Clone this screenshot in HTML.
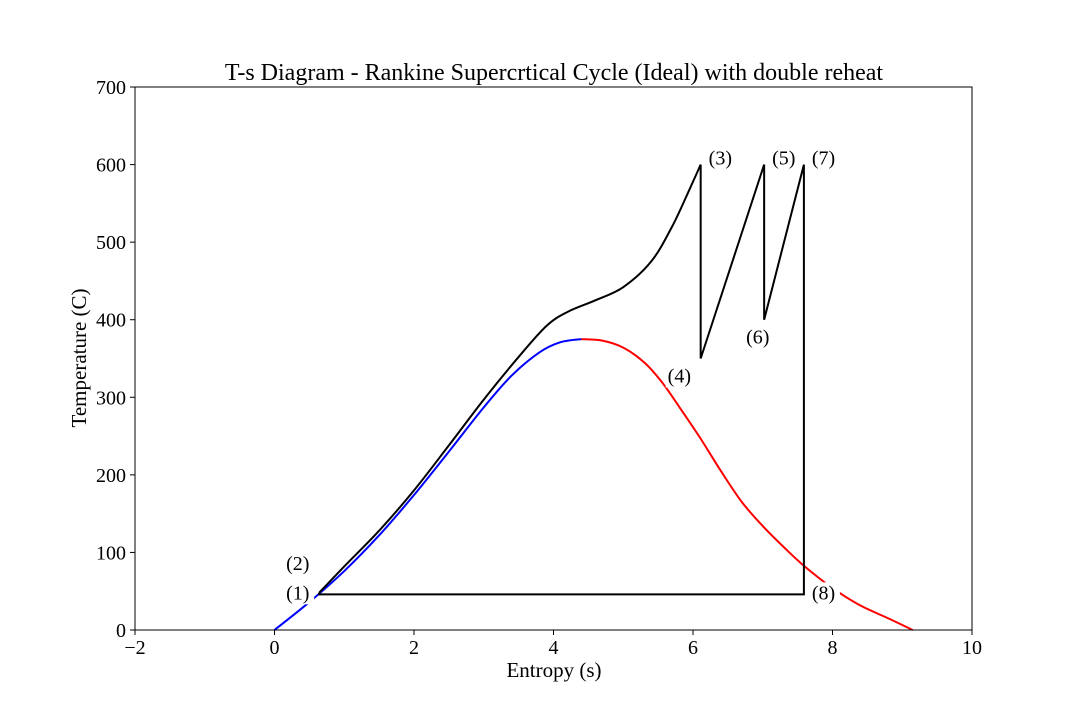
<!DOCTYPE html>
<html><head><meta charset="utf-8"><style>
body{margin:0;background:#fff}
svg{display:block;font-family:"Liberation Serif",serif}
</style></head><body>
<svg id="chart" width="1080" height="720" viewBox="0 0 1080 720"></svg>
<script>
const xTicks=[-2,0,2,4,6,8,10];
const yTicks=[0,100,200,300,400,500,600,700];
const liquidS=[0,0.5,1,1.5,2,2.5,3,3.4,3.8,4.1,4.4];
const liquidT=[0,36,76,122,174,230,287,328,358,371,375];
const vaporS=[4.4,4.7,5.0,5.3,5.55,5.8,6.1,6.4,6.7,7.0,7.3,7.6,8.0,8.39,8.8,9.15];
const vaporT=[375,373,364,345,320,288,248,205,165,134,107,82,54,32,15,0];
const heatS=[0.64,1,1.5,2,2.5,3,3.5,3.9,4.2,4.6,5,5.4,5.7,5.95,6.11];
const heatT=[48,82,128,180,238,297,352,392,410,425,442,475,520,568,600];
const cycleS=[6.11,6.11,7.02,7.02,7.59,7.59,0.64,0.64];
const cycleT=[600,350,600,400,600,46,46,48];
const ptLabels=["(1)","(2)","(3)","(4)","(5)","(6)","(7)","(8)"];
const ptS=[0.64,0.64,6.11,6.11,7.02,7.02,7.59,7.59];
const ptT=[46,48,600,350,600,400,600,46];
const ptDx=[-33,-33,8,-33,8,-18,8,8];
const ptDy=[-2,-30,-7,17,-7,17,-7,-2];

const X0=135,X1=972,Y0=630,Y1=87;
const sx=v=>X0+(v-(-2))/12*(X1-X0);
const sy=v=>Y0-v/700*(Y0-Y1);
const svg=document.getElementById('chart');
const NS='http://www.w3.org/2000/svg';
function mk(tag,attrs,parent){const e=document.createElementNS(NS,tag);for(const k in attrs)e.setAttribute(k,attrs[k]);(parent||svg).appendChild(e);return e;}
function smooth(xs,ys){
  const p=xs.map((x,i)=>[sx(x),sy(ys[i])]);
  let d='M'+p[0][0]+','+p[0][1];
  for(let i=0;i<p.length-1;i++){
    const a=p[Math.max(0,i-1)],b=p[i],c=p[i+1],e=p[Math.min(p.length-1,i+2)];
    const c1=[b[0]+(c[0]-a[0])/6,b[1]+(c[1]-a[1])/6];
    const c2=[c[0]-(e[0]-b[0])/6,c[1]-(e[1]-b[1])/6];
    d+=' C'+c1+' '+c2+' '+c;
  }
  return d;
}
let t=mk('text',{x:554,y:80,'text-anchor':'middle','font-size':24});
t.textContent='T-s Diagram - Rankine Supercrtical Cycle (Ideal) with double reheat';


xTicks.forEach(v=>{
  const l=mk('line',{x1:sx(v),x2:sx(v),y1:Y0,y2:Y0+5,stroke:'#000'});
  
  
  const tx=mk('text',{x:sx(v),y:Y0+24,'text-anchor':'middle','font-size':20});
  tx.textContent=v<0?'\u2212'+(-v):String(v);
  
  
});
yTicks.forEach(v=>{
  const l=mk('line',{x1:X0-5,x2:X0,y1:sy(v),y2:sy(v),stroke:'#000'});
  
  
  const tx=mk('text',{x:X0-9,y:sy(v)+7,'text-anchor':'end','font-size':20});
  tx.textContent=String(v);
  
  
});
t=mk('text',{x:554,y:677,'text-anchor':'middle','font-size':21});
t.textContent='Entropy (s)';


t=mk('text',{x:0,y:0,'text-anchor':'middle','font-size':21,transform:'translate(86,358) rotate(-90)'});
t.textContent='Temperature (C)';



let p=mk('path',{d:smooth(liquidS,liquidT),fill:'none',stroke:'#0000ff','stroke-width':2});


p=mk('path',{d:smooth(vaporS,vaporT),fill:'none',stroke:'#ff0000','stroke-width':2});


p=mk('path',{d:smooth(heatS,heatT),fill:'none',stroke:'#000','stroke-width':2});


p=mk('polyline',{points:cycleS.map((s,i)=>sx(s)+','+sy(cycleT[i])).join(' '),fill:'none',stroke:'#000','stroke-width':2});



ptLabels.forEach((lab,i)=>{
  const x=sx(ptS[i])+ptDx[i],y=sy(ptT[i])+ptDy[i];
  const r=mk('rect',{x:x-2,y:y-10,width:30,height:22,fill:'#fff'});
  
  
  const tx=mk('text',{x:x,y:y+7,'font-size':20});
  tx.textContent=lab;
  
  
});
const fr=mk('rect',{x:X0,y:Y1,width:X1-X0,height:Y0-Y1,fill:'none',stroke:'#000','stroke-width':1});


</script>
</body></html>
